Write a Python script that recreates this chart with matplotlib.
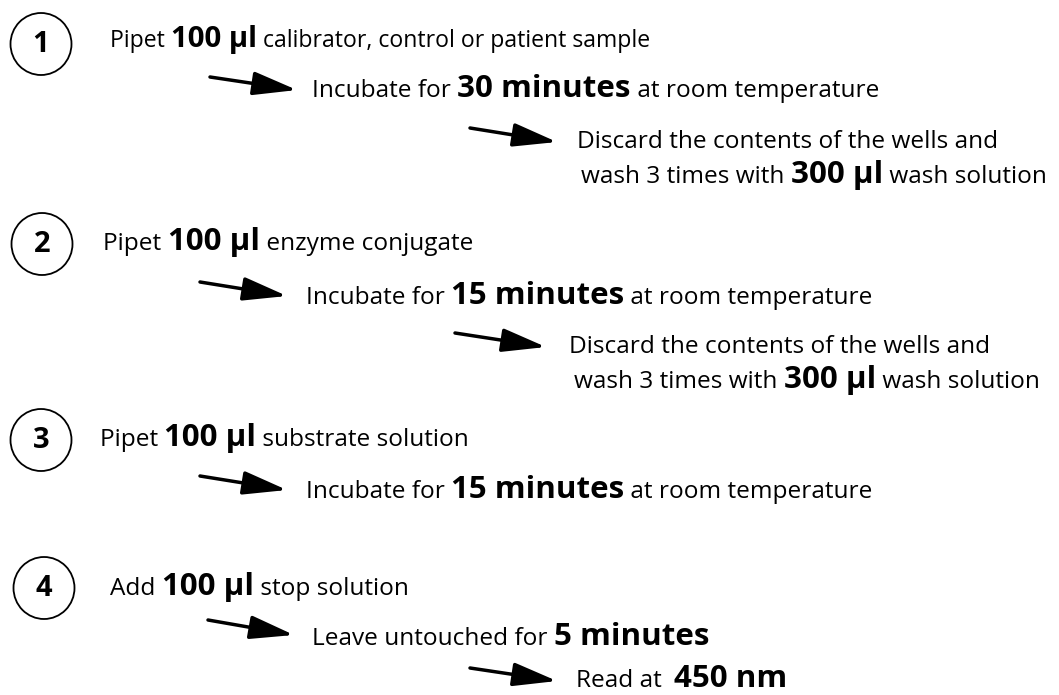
import matplotlib
matplotlib.use("Agg")
import matplotlib.pyplot as plt
from matplotlib.patches import Ellipse, FancyArrowPatch

plt.rcParams['font.family'] = ['Open Sans', 'DejaVu Sans']

# step numbers and their text lines; each line is a list of (text, bold) pieces
step_numbers = ['1', '2', '3', '4']
step_lines = [
    [('Pipet ', False), ('100 µl', True), (' calibrator, control or patient sample', False)],
    [('Incubate for ', False), ('30 minutes', True), (' at room temperature', False)],
    [('Discard the contents of the wells and', False)],
    [('wash 3 times with ', False), ('300 µl', True), (' wash solution', False)],
    [('Pipet ', False), ('100 µl', True), (' enzyme conjugate', False)],
    [('Incubate for ', False), ('15 minutes', True), (' at room temperature', False)],
    [('Discard the contents of the wells and', False)],
    [('wash 3 times with ', False), ('300 µl', True), (' wash solution', False)],
    [('Pipet ', False), ('100 µl', True), (' substrate solution', False)],
    [('Incubate for ', False), ('15 minutes', True), (' at room temperature', False)],
    [('Add ', False), ('100 µl', True), (' stop solution', False)],
    [('Leave untouched for ', False), ('5 minutes', True)],
    [('Read at  ', False), ('450 nm', True)],
]

# layout in pixels (x left, baseline y)
circle_pos = [(41, 44), (42, 244), (41, 440), (44, 588)]
line_pos = [(110, 47), (312, 97), (577, 148), (581, 183),
            (103, 250), (306, 304), (569, 353), (574, 388),
            (100, 446), (306, 498),
            (110, 595), (312, 645), (576, 687)]
arrow_pos = [((210, 77), (297, 90)), ((470, 128), (557, 142)),
             ((200, 282), (287, 296)), ((455, 333), (546, 347)),
             ((200, 476), (287, 490)),
             ((208, 620), (294, 635)), ((470, 668), (557, 681))]

W, H = 1059, 695
fig = plt.figure(figsize=(W / 100, H / 100), dpi=100)
ax = fig.add_axes([0, 0, 1, 1])
ax.set_xlim(0, W)
ax.set_ylim(H, 0)
ax.axis('off')
renderer = fig.canvas.get_renderer()

REG = 17.6
BOLD = 22.5


def rich_line(x, y, parts, scale=1.0):
    for txt, bold in parts:
        t = ax.text(x, y, txt, fontsize=(BOLD if bold else REG) * scale,
                    fontweight='bold' if bold else 'normal',
                    ha='left', va='baseline', color='black')
        bb = t.get_window_extent(renderer=renderer)
        x += bb.width


for num, (cx, cy) in zip(step_numbers, circle_pos):
    ax.add_patch(Ellipse((cx, cy), 61, 62, fill=False, lw=1.3, ec='black'))
    ax.text(cx, cy + 1, num, fontsize=21, fontweight='bold', ha='center', va='center')

for i, (parts, (x, y)) in enumerate(zip(step_lines, line_pos)):
    # the first line is set a touch smaller in the original
    rich_line(x, y, parts, 0.94 if i == 0 else 1.0)

for start, end in arrow_pos:
    ax.add_patch(FancyArrowPatch(start, end, arrowstyle='-|>,head_length=1.5,head_width=0.4',
                                 mutation_scale=18, lw=2.5, color='black',
                                 shrinkA=0, shrinkB=0))

fig.savefig('out.png', dpi=100, facecolor='white')
